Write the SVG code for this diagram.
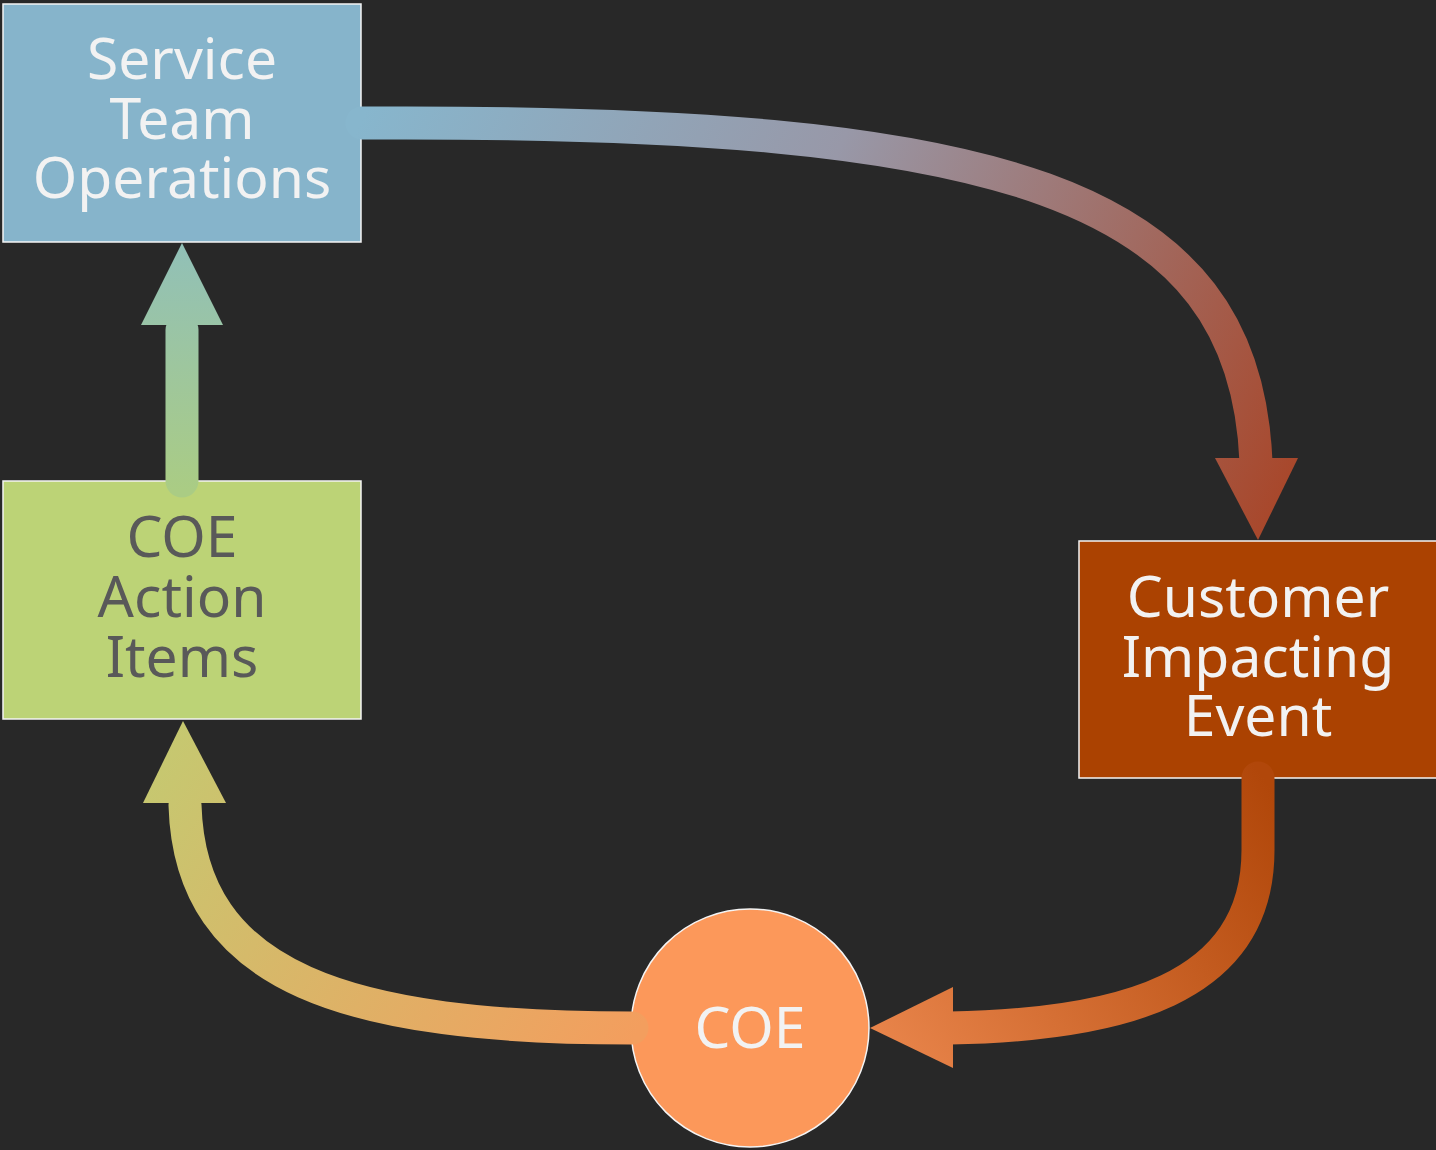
<svg xmlns="http://www.w3.org/2000/svg" width="1436" height="1150" viewBox="0 0 1436 1150">
  <style>
    .node { stroke: #f4f4f4; stroke-width: 1.5; }
    .label { font-family: "Noto Sans", "DejaVu Sans", sans-serif; font-size: 57px; text-anchor: middle; }
    .light { fill: #f2f2f2; }
    .dark { fill: #595959; }
    .shaft { fill: none; stroke-width: 33; stroke-linecap: round; }
  </style>
  <defs>
    <linearGradient id="gOps" gradientUnits="userSpaceOnUse" x1="360" y1="123" x2="1258" y2="540">
      <stop offset="0" stop-color="#87b6cd"/>
      <stop offset="0.45" stop-color="#9898a8"/>
      <stop offset="1" stop-color="#a8482c"/>
    </linearGradient>
    <linearGradient id="gEvent" gradientUnits="userSpaceOnUse" x1="1258" y1="770" x2="870" y2="1028">
      <stop offset="0" stop-color="#b1470a"/>
      <stop offset="1" stop-color="#e8844a"/>
    </linearGradient>
    <linearGradient id="gCoe" gradientUnits="userSpaceOnUse" x1="640" y1="1028" x2="182" y2="720">
      <stop offset="0" stop-color="#f39e5e"/>
      <stop offset="1" stop-color="#c6c870"/>
    </linearGradient>
    <linearGradient id="gItems" gradientUnits="userSpaceOnUse" x1="182" y1="490" x2="182" y2="243">
      <stop offset="0" stop-color="#aacc84"/>
      <stop offset="1" stop-color="#91c0b8"/>
    </linearGradient>
  </defs>

  <rect width="1436" height="1150" fill="#282828"/>

  <!-- nodes -->
  <g id="service-team-operations">
    <rect class="node" x="3" y="4" width="358" height="238" fill="#86b4cb"/>
    <text class="label light" x="182" y="79">Service</text>
    <text class="label light" x="182" y="139">Team</text>
    <text class="label light" x="182" y="198">Operations</text>
  </g>
  <g id="coe-action-items">
    <rect class="node" x="3" y="481" width="358" height="238" fill="#bcd376"/>
    <text class="label dark" x="182" y="557">COE</text>
    <text class="label dark" x="182" y="617">Action</text>
    <text class="label dark" x="182" y="677">Items</text>
  </g>
  <g id="customer-impacting-event">
    <rect class="node" x="1079" y="541" width="360" height="237" fill="#ab4201"/>
    <text class="label light" x="1258" y="617">Customer</text>
    <text class="label light" x="1258" y="677">Impacting</text>
    <text class="label light" x="1258" y="736">Event</text>
  </g>
  <g id="coe">
    <circle class="node" cx="750" cy="1028" r="119" fill="#fc985a"/>
    <text class="label light" x="750" y="1048">COE</text>
  </g>

  <!-- connectors -->
  <g id="connectors">
    <g id="ops-to-event">
      <path class="shaft" stroke="url(#gOps)" d="M 362 123 L 370 123 C 1000 120, 1245 190, 1256 462"/>
      <polygon fill="url(#gOps)" points="1215,458 1298,458 1258,540"/>
    </g>
    <g id="event-to-coe">
      <path class="shaft" stroke="url(#gEvent)" d="M 1258 778 L 1258 850 C 1258 990, 1120 1025, 950 1028"/>
      <polygon fill="url(#gEvent)" points="953,987 953,1068 870,1028"/>
    </g>
    <g id="coe-to-items">
      <path class="shaft" stroke="url(#gCoe)" d="M 632 1028 C 350 1028, 190 980, 185 805"/>
      <polygon fill="url(#gCoe)" points="143,803 226,803 183,721"/>
    </g>
    <g id="items-to-ops">
      <path class="shaft" stroke="url(#gItems)" d="M 182 481 L 182 330"/>
      <polygon fill="url(#gItems)" points="141,325 223,325 182,243"/>
    </g>
  </g>
</svg>
